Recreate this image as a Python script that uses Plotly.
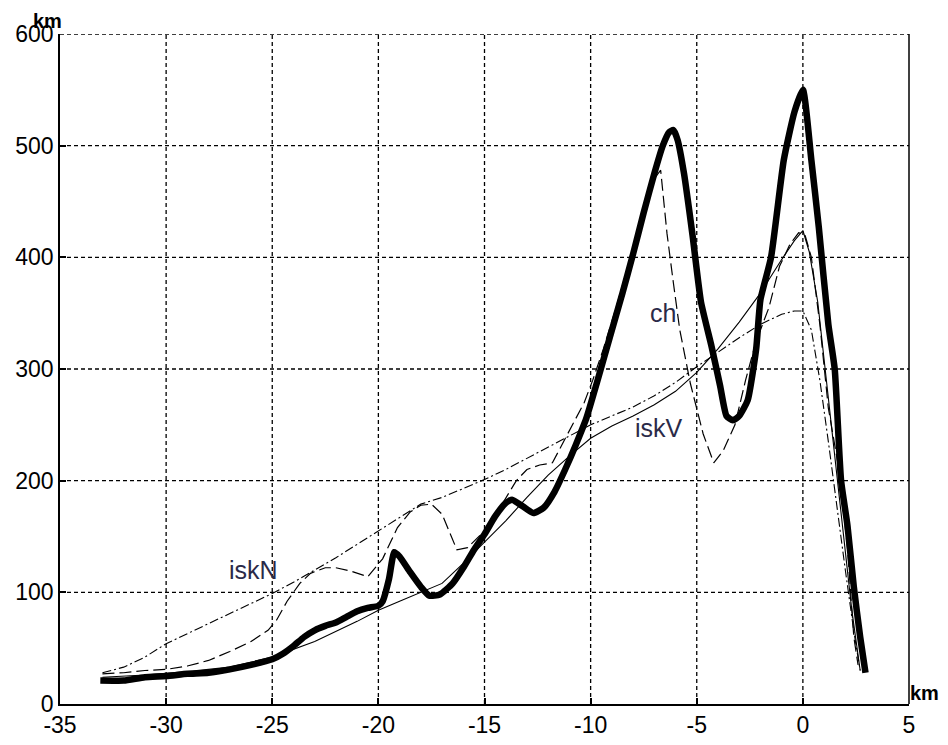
import plotly.graph_objects as go

# thick curve
thick_x = [-33.1, -32, -31, -30, -29, -28, -27, -26, -25, -24.5, -24, -23.5, -23, -22.5, -22, -21.5, -21, -20.5, -20,
           -19.8, -19.5, -19.25, -19.0, -18.5, -18, -17.6, -17.1, -16.5, -16, -15.5, -15, -14.5, -14, -13.7, -13.2, -12.7,
           -12.2, -11.7, -11.2, -10.7, -10.2, -9.7, -9.1, -8.5, -8.0, -7.5, -7.0, -6.6, -6.3, -6.1, -5.9, -5.6, -5.2,
           -4.8, -4.3, -3.9, -3.6, -3.3, -3.0, -2.6, -2.2, -2.0, -1.5, -0.9, -0.4, 0.0, 0.4, 0.75, 1.2, 1.5, 1.8, 2.1,
           2.4, 2.7, 2.95]
thick_y = [21, 21, 24, 25, 27, 28, 31, 35, 40, 45, 52, 60, 66, 70, 73, 78, 83, 86, 88,
           92, 112, 136, 132, 118, 105, 97, 98, 108, 122, 138, 152, 168, 180, 183, 177, 171,
           176, 190, 210, 232, 256, 288, 328, 368, 403, 440, 475, 500, 512, 514, 505, 475, 420,
           360, 320, 285, 258, 254, 258, 272, 318, 362, 400, 487, 530, 550, 487, 427, 340, 300, 200, 160,
           105, 60, 28]

# thin solid
iskV_x = [-33, -31, -29, -27, -25, -23, -21, -20, -19, -18, -17, -16.5, -16, -15, -14, -13, -12, -11, -10, -9, -8,
          -7, -6, -5, -4, -3, -2, -1, -0.4, 0.0, 0.3, 0.7, 1.1, 1.5, 1.9, 2.3, 2.7]
iskV_y = [24, 26, 29, 33, 42, 56, 74, 84, 92, 100, 108, 117, 126, 145, 164, 185, 205, 222, 238, 249, 258,
          268, 280, 297, 318, 342, 368, 398, 415, 424, 405, 360, 290, 220, 150, 85, 30]

# dash-dot
iskN_x = [-33, -32, -31, -30, -29, -28, -27, -26, -25, -24, -23, -22, -21, -20, -19, -18, -17, -16, -15, -14, -13,
          -12, -11, -10, -9, -8, -7, -6, -5, -4, -3, -2, -1, -0.4, 0.0, 0.4, 0.8, 1.2, 1.6, 2.0, 2.4, 2.7]
iskN_y = [28, 33, 42, 54, 63, 72, 81, 90, 99, 109, 120, 131, 143, 155, 167, 179, 185, 193, 201, 210, 220,
          230, 240, 250, 258, 266, 276, 288, 302, 315, 328, 340, 349, 352, 352, 335, 290, 235, 175, 120, 65, 30]

# long dash
ch_x = [-33, -32, -31, -30, -29, -28, -27, -26, -25.2, -24.8, -24.3, -23.7, -23.2, -22.5, -22, -21.3, -20.5,
        -19.8, -19.1, -18.5, -18, -17.5, -17, -16.6, -16.3, -15.8, -15.0, -14.2, -13.5, -13, -12.4, -11.8, -11.2,
        -10.8, -10.3, -9.9, -9.4, -8.8, -8.2, -7.6, -7.1, -6.7, -6.4, -6.1, -5.8, -5.3, -4.7, -4.2, -3.75, -3.2,
        -2.7, -2.2, -1.6, -1.1, -0.6, -0.2, 0.1, 0.4, 0.8, 1.2, 1.7, 2.1, 2.4, 2.6]
ch_y = [27, 28, 30, 31, 34, 39, 47, 56, 66, 75, 92, 108, 117, 122, 122, 119, 114,
        130, 158, 172, 178, 179, 170, 152, 138, 140, 155, 178, 200, 210, 214, 216, 238,
        252, 270, 290, 318, 355, 395, 435, 468, 478, 421, 377, 335, 287, 242, 216, 227, 250,
        290, 325, 355, 392, 412, 422, 420, 400, 340, 265, 210, 140, 60, 35]

x_ticks = [-35, -30, -25, -20, -15, -10, -5, 0, 5]
y_ticks = [0, 100, 200, 300, 400, 500, 600]

fig = go.Figure()
fig.add_trace(go.Scatter(x=iskN_x, y=iskN_y, mode="lines",
                         line=dict(color="black", width=1.1, dash="9px,3px,2px,3px")))
fig.add_trace(go.Scatter(x=iskV_x, y=iskV_y, mode="lines",
                         line=dict(color="black", width=1.1)))
fig.add_trace(go.Scatter(x=ch_x, y=ch_y, mode="lines",
                         line=dict(color="black", width=1.2, dash="12px,5px")))
fig.add_trace(go.Scatter(x=thick_x, y=thick_y, mode="lines",
                         line=dict(color="black", width=6.5, shape="spline", smoothing=0.5)))

grid = dict(color="black", width=1.3, dash="4px,3px")
for xv in x_ticks[1:-1]:
    fig.add_shape(type="line", x0=xv, x1=xv, y0=0, y1=600, line=grid, layer="below")
for yv in y_ticks[1:]:
    fig.add_shape(type="line", x0=-35, x1=5, y0=yv, y1=yv, line=grid, layer="below")

lab = dict(family="Liberation Sans, Arial", size=25, color="#2a2a48")
fig.add_annotation(x=-25.9, y=120, text="iskN", showarrow=False, font=lab)
fig.add_annotation(x=-6.6, y=350, text="ch", showarrow=False, font=lab)
fig.add_annotation(x=-6.8, y=247, text="iskV", showarrow=False, font=lab)
kmf = dict(family="Liberation Sans, Arial", size=20, color="black")
fig.add_annotation(x=0, y=1.0, xref="paper", yref="paper", xanchor="left", yanchor="bottom",
                   xshift=-29, yshift=0, text="<b>km</b>", showarrow=False, font=kmf)
fig.add_annotation(x=1.0, y=0.0, xref="paper", yref="paper", xanchor="left", yanchor="bottom",
                   xshift=-1, yshift=-2, text="<b>km</b>", showarrow=False, font=kmf)

tickf = dict(family="Liberation Sans, Arial", size=23, color="black")
fig.update_xaxes(range=[-35, 5], tickvals=x_ticks, ticktext=[str(v) for v in x_ticks],
                 showgrid=False, zeroline=False, showline=True, linecolor="black", linewidth=1.5,
                 mirror=False, ticks="inside", ticklen=6, tickwidth=2, tickcolor="black",
                 tickfont=tickf, automargin=False)
fig.update_yaxes(range=[0, 600], tickvals=y_ticks, ticktext=[str(v) for v in y_ticks],
                 showgrid=False, zeroline=False, showline=True, linecolor="black", linewidth=1.5,
                 ticks="inside", ticklen=6, tickwidth=2, tickcolor="black", tickfont=tickf,
                 automargin=False)
# right border
fig.add_shape(type="line", x0=1, x1=1, y0=0, y1=1, xref="paper", yref="paper",
              line=dict(color="black", width=1.5))

fig.update_layout(width=940, height=737, showlegend=False,
                  margin=dict(l=52, r=39, t=26, b=41),
                  plot_bgcolor="white", paper_bgcolor="white")
fig.write_html("out.html")
